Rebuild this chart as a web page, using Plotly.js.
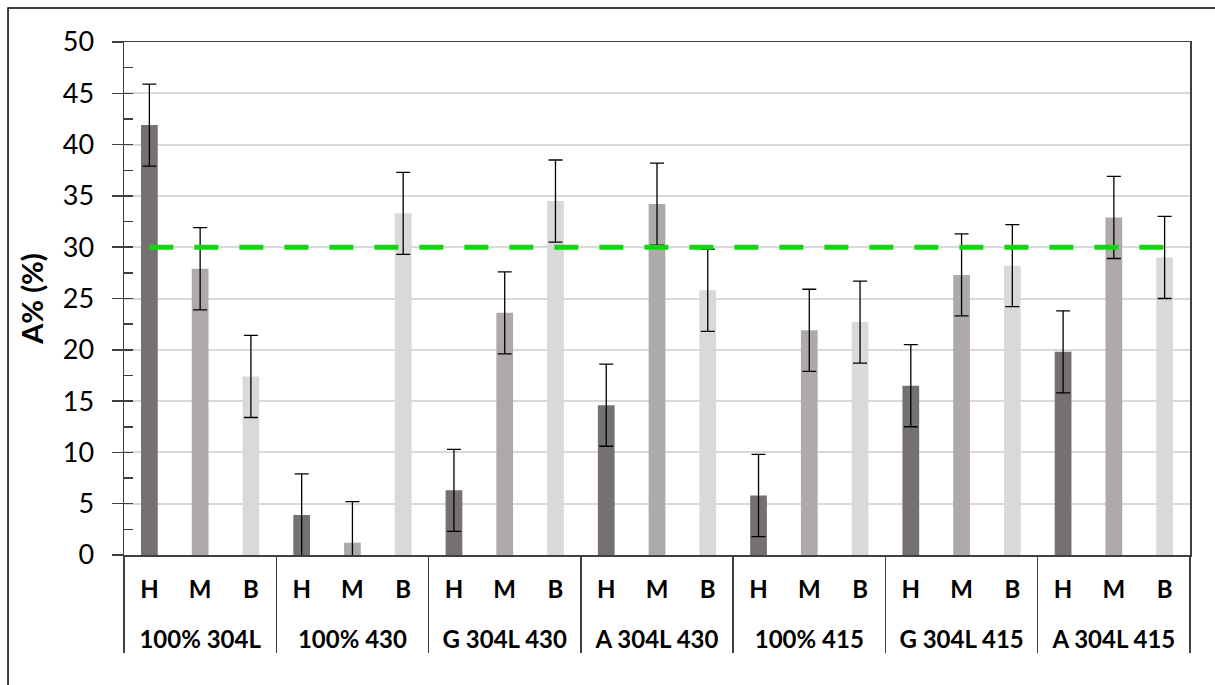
<!DOCTYPE html>
<html>
<head>
<meta charset="utf-8">
<script src="https://cdn.plot.ly/plotly-3.0.1.min.js"></script>
<style>html,body{margin:0;padding:0;background:#fff;}#chart{width:1215px;height:685px;}</style>
</head>
<body>
<div id="chart"></div>
<script>
const groups = ["100% 304L", "100% 430", "G 304L 430", "A 304L 430", "100% 415", "G 304L 415", "A 304L 415"];
const zones = ["H", "M", "B"];
const valuesH = [41.9, 3.9, 6.3, 14.6, 5.8, 16.5, 19.8];
const valuesM = [27.9, 1.2, 23.6, 34.2, 21.9, 27.3, 32.9];
const valuesB = [17.4, 33.3, 34.5, 25.8, 22.7, 28.2, 29.0];
const errorsH = [4, 4, 4, 4, 4, 4, 4];
const errorsM = [4, 4, 4, 4, 4, 4, 4];
const errorsB = [4, 4, 4, 4, 4, 4, 4];
const threshold = 30;

const colors = {H: "#767171", M: "#AEAAAA", B: "#D9D9D9"};
const axisColor = "#404040";
// group labels displayed with a leading empty line to space the two label rows like the original
const groupLabels = groups.map(g => "<br>" + g);

function barTrace(zone, vals, errs) {
  return {
    type: "bar",
    name: zone,
    x: [groupLabels, groups.map(() => zone)],
    y: vals,
    marker: {color: colors[zone]},
    error_y: {type: "data", array: errs, visible: true, color: "#000", thickness: 1.3, width: 7},
    hoverinfo: "y"
  };
}

const traces = [
  barTrace("H", valuesH, errorsH),
  barTrace("M", valuesM, errorsM),
  barTrace("B", valuesB, errorsB),
  {
    type: "scatter",
    mode: "lines",
    name: "30%",
    x: [[groupLabels[0], groupLabels[groupLabels.length - 1]], [zones[0], zones[zones.length - 1]]],
    y: [threshold, threshold],
    yaxis: "y2",
    line: {color: "#12D612", width: 5, dash: "24px,21px"},
    hoverinfo: "y"
  }
];

const layout = {
  width: 1215,
  height: 685,
  margin: {l: 124, r: 25, t: 42, b: 130},
  paper_bgcolor: "#fff",
  plot_bgcolor: "#fff",
  showlegend: false,
  barmode: "overlay",
  bargap: 0.67,
  font: {family: "Lato, 'Open Sans', sans-serif", color: "#000"},
  xaxis: {
    type: "multicategory",
    showline: true,
    linecolor: axisColor,
    linewidth: 1.5,
    mirror: true,
    ticks: "",
    ticklabelstandoff: 13,
    showgrid: false,
    showdividers: true,
    dividercolor: axisColor,
    dividerwidth: 1.5,
    tickfont: {family: "Lato", size: 24, weight: "bold", color: "#000"}
  },
  yaxis: {
    range: [0, 50],
    dtick: 5,
    tick0: 0,
    ticks: "outside",
    ticklen: 11,
    tickwidth: 1.5,
    tickcolor: axisColor,
    ticklabelstandoff: 12,
    showline: true,
    linecolor: axisColor,
    linewidth: 1.5,
    mirror: true,
    showgrid: true,
    gridcolor: "#D9D9D9",
    gridwidth: 2,
    zeroline: false,
    tickfont: {family: "Lato", size: 27, color: "#000"},
    title: {text: "A% (%)", font: {family: "Lato", size: 29, weight: "bold", color: "#000"}, standoff: 10}
  },
  yaxis2: {
    overlaying: "y",
    anchor: "x",
    side: "left",
    range: [0, 50],
    dtick: 2.5,
    tick0: 0,
    ticks: "inside",
    ticklen: 9,
    tickwidth: 1.5,
    tickcolor: axisColor,
    showticklabels: false,
    showgrid: false,
    showline: false,
    zeroline: false
  },
  shapes: [{
    type: "rect",
    xref: "paper", yref: "paper",
    x0: -0.1088, x1: 1.04,
    y0: -0.28, y1: 1.0663,
    line: {color: "#000", width: 1.5},
    fillcolor: "rgba(0,0,0,0)",
    layer: "above"
  }]
};

Plotly.newPlot("chart", traces, layout, {displayModeBar: false, staticPlot: true});
</script>
</body>
</html>
